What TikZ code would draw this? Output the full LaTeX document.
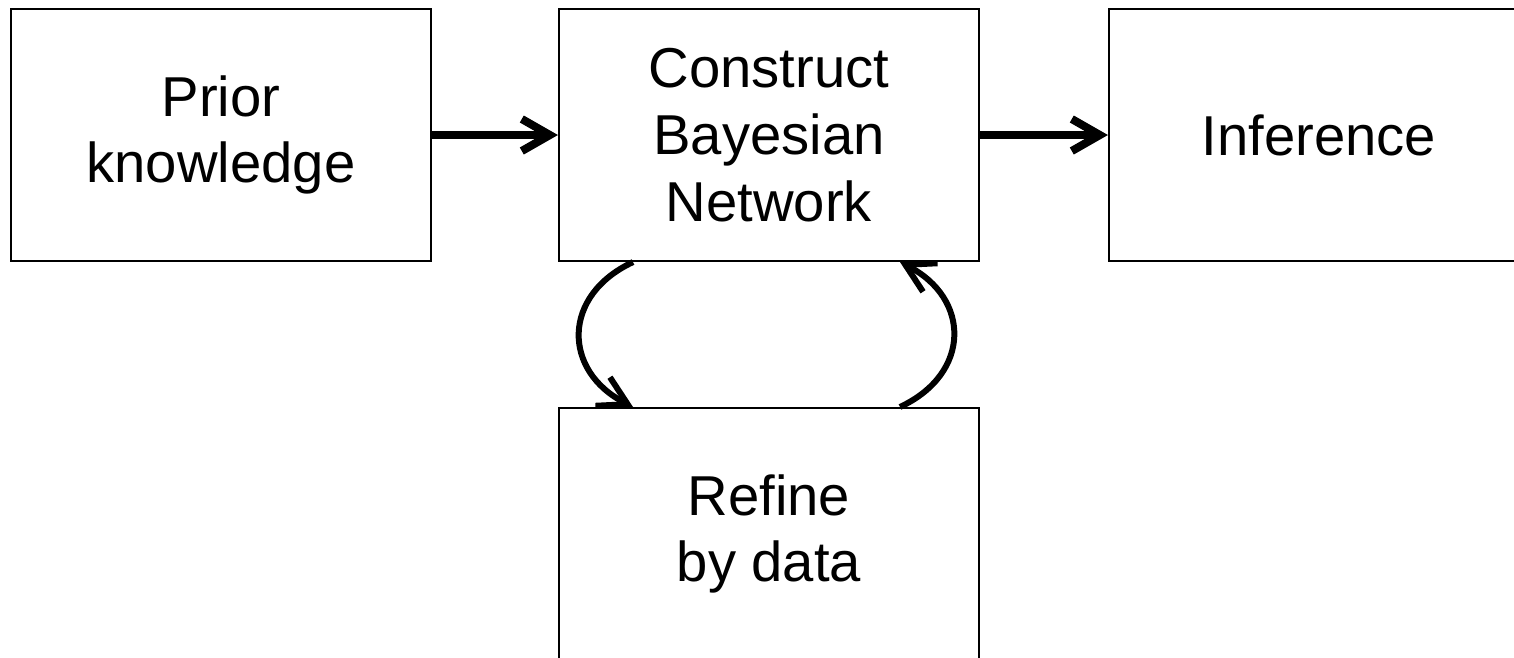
\documentclass[tikz,border=0pt]{standalone}
\usepackage{fontspec}
\setmainfont{Liberation Sans}
\usetikzlibrary{arrows.meta,positioning}

\begin{document}
\begin{tikzpicture}[
    box/.style={draw, line width=0.6pt, minimum width=4.2cm, minimum height=2.52cm,
                align=center, font=\fontsize{16}{19}\selectfont},
    flow/.style={line width=2.3pt, -{Straight Barb[length=2.8mm,width=3.2mm]}},
    loop/.style={line width=1.7pt, -{Straight Barb[length=2.8mm,width=3.2mm]}}
]
    \useasboundingbox (0,0) rectangle (15.14,-6.57);
    \clip (0,0) rectangle (15.14,-6.57);

    % Boxes
    \node[box] (prior) at (2.21,-1.35) {Prior\\knowledge};
    \node[box] (construct) at (7.69,-1.35) {Construct\\Bayesian\\Network};
    \node[box] (infer) at (13.19,-1.35) {Inference};
    \node[box] (refine) at (7.69,-5.34) {Refine\\by data};

    % Main flow
    \draw[flow] (prior) -- (construct);
    \draw[flow] (construct) -- (infer);

    % Refinement loop
    \draw[loop] ([xshift=-1.36cm]construct.south)
        to[out=205, in=153, looseness=1.4] ([xshift=-1.36cm]refine.north);
    \draw[loop] ([xshift=1.31cm]refine.north)
        to[out=25, in=-27, looseness=1.4] ([xshift=1.31cm]construct.south);
\end{tikzpicture}
\end{document}
